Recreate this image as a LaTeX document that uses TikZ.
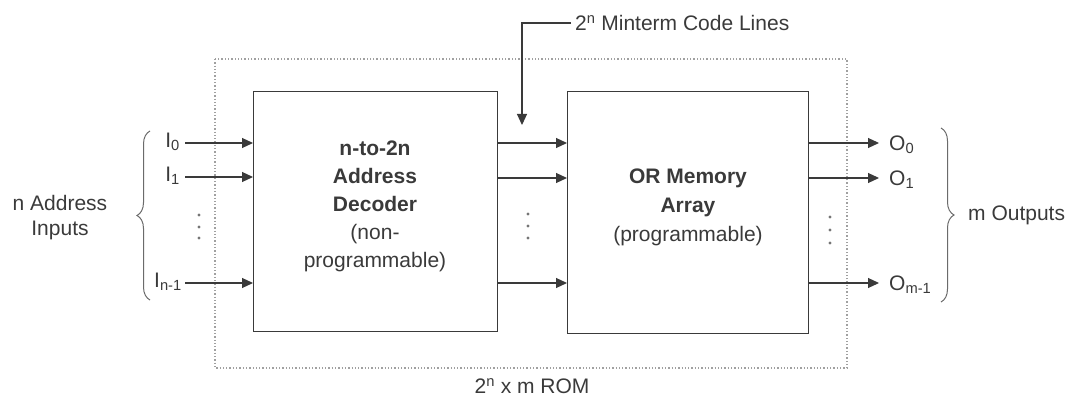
\documentclass[tikz,border=0pt]{standalone}
\usepackage{fontspec}
\setmainfont{Liberation Sans}
\usetikzlibrary{arrows.meta,decorations.pathreplacing}
\definecolor{ink}{HTML}{3A3A3A}
\definecolor{dotc}{HTML}{A0A0A0}
\begin{document}
\begin{tikzpicture}[x=1pt,y=-1pt,
  txt/.style={text=ink,font=\fontsize{21}{23}\selectfont,inner sep=0pt},
  blk/.style={draw=ink,line width=1.3pt,minimum width=244pt,minimum height=240pt,anchor=north west,inner sep=0pt},
  arr/.style={draw=ink,line width=1.1pt,-{Triangle[length=11pt,width=10pt]}},
  brc/.style={draw=ink!75,line width=1pt,decorate,decoration={brace,amplitude=13pt}},
  dt/.style={fill=ink!70,circle,inner sep=0pt,minimum size=3.4pt}]
\useasboundingbox (0,0) rectangle (1068,398);
% ROM dotted box
\draw[dotc,line width=1.3pt,dotted] (215,59) rectangle (847,368);
% blocks
\node[blk] (dec) at (253,91) {};
\node[blk,minimum width=241pt,minimum height=242pt] (orm) at (567,91) {};
\node[txt,align=center,font=\fontsize{21}{28}\selectfont] (dect) at (375,206) {\textbf{n-to-2n}\\\textbf{Address}\\\textbf{Decoder}\\(non-\\programmable)};
\node[txt,align=center,font=\fontsize{21}{29}\selectfont] (ormt) at (688,207) {\textbf{OR Memory}\\\textbf{Array}\\(programmable)};
% inputs
\coordinate (i0) at (185,143);
\coordinate (i1) at (185,177);
\coordinate (in) at (185,283);
\draw[arr] (i0) -- (i0 -| dec.west);
\draw[arr] (i1) -- (i1 -| dec.west);
\draw[arr] (in) -- (in -| dec.west);
\node[txt,anchor=east] (l0) at (180,142) {I\textsubscript{0}};
\node[txt,anchor=east] (l1) at (180,176) {I\textsubscript{1}};
\node[txt,anchor=east] (ln) at (182,282) {I\textsubscript{n-1}};
\foreach \y in {215,227,238} \node[dt] at (199,\y) {};
% middle
\coordinate (m0) at (497,143);
\coordinate (m1) at (497,178);
\coordinate (mn) at (497,283);
\draw[arr] (m0) -- (m0 -| orm.west);
\draw[arr] (m1) -- (m1 -| orm.west);
\draw[arr] (mn) -- (mn -| orm.west);
\foreach \y in {214,226,238} \node[dt] at (528,\y) {};
% outputs
\coordinate (o0) at (879,143);
\coordinate (o1) at (879,178);
\coordinate (on) at (879,283);
\draw[arr] (o0 -| orm.east) -- (o0);
\draw[arr] (o1 -| orm.east) -- (o1);
\draw[arr] (on -| orm.east) -- (on);
\node[txt,anchor=west] (p0) at (889,145) {O\textsubscript{0}};
\node[txt,anchor=west] (p1) at (889,180) {O\textsubscript{1}};
\node[txt,anchor=west] (pn) at (889,285) {O\textsubscript{m-1}};
\foreach \y in {217,230,243} \node[dt] at (830,\y) {};
% braces
\draw[brc] (150,300) -- (150,131);
\node[txt,align=center,font=\fontsize{21}{25}\selectfont] (addr) at (60,218) {n Address\\Inputs};
\draw[brc] (941,128) -- (941,302);
\node[txt,anchor=west] (mout) at (968,215) {m Outputs};
% minterm
\node[txt,anchor=west] (mint) at (575,23) {2\textsuperscript{n} Minterm Code Lines};
\coordinate (mc) at (522,23);
\draw[arr] (mint.west) ++(-4,0) -- (mc) -- (522,125);
% ROM label
\node[txt] (rom) at (532,386) {2\textsuperscript{n} x m ROM};
\end{tikzpicture}
\end{document}
